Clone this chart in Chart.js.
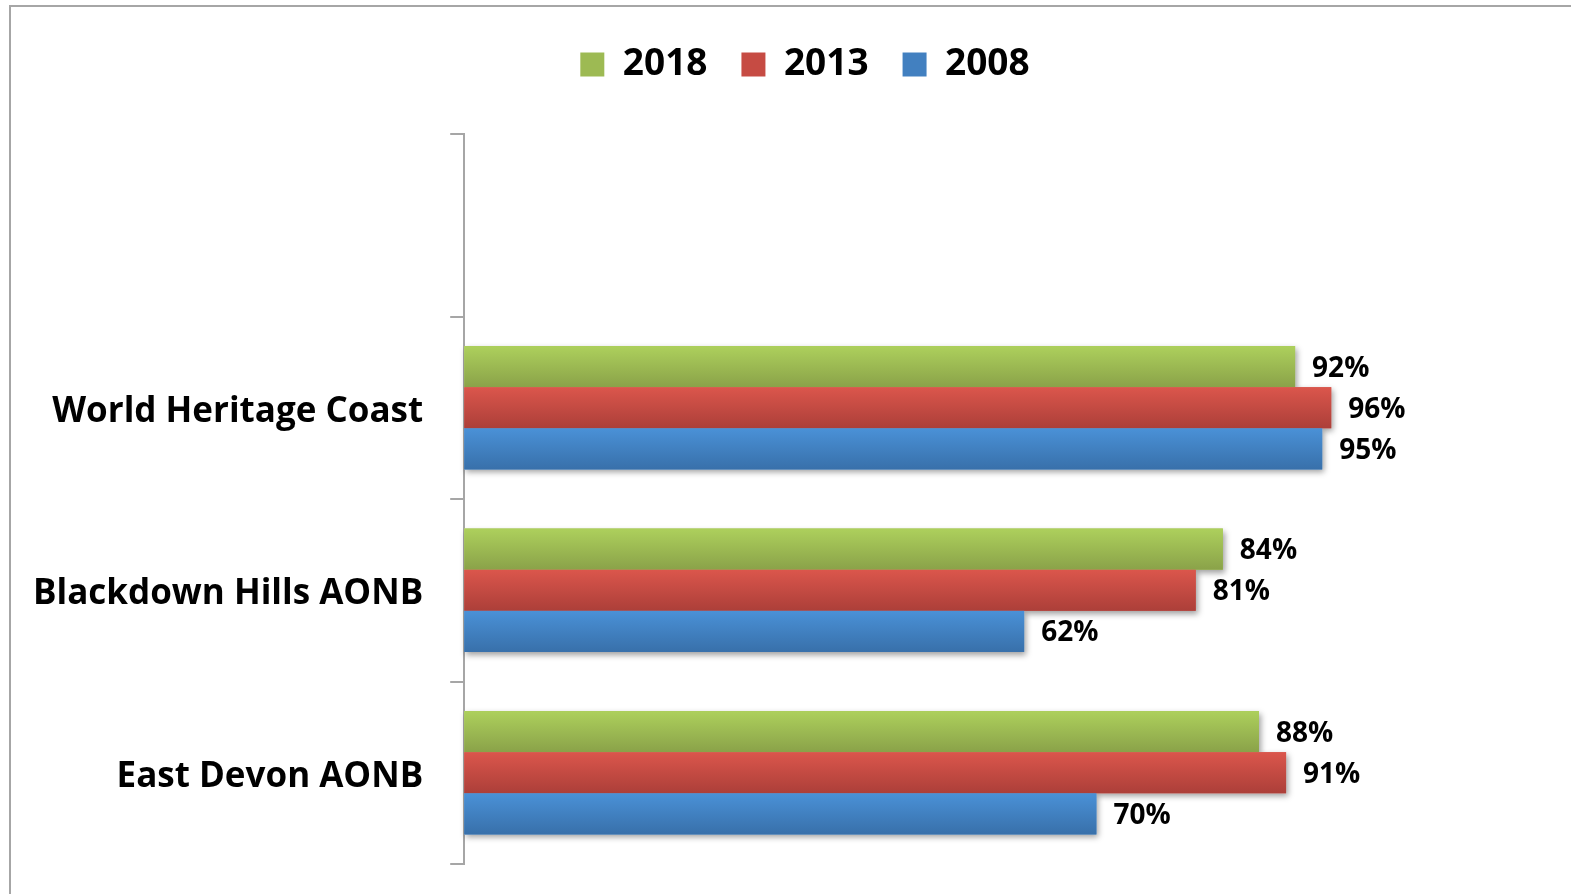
<!DOCTYPE html>
<html>
<head>
<meta charset="utf-8">
<script src="https://cdn.jsdelivr.net/npm/chart.js@4/dist/chart.umd.min.js"></script>
<style>
  html, body { margin: 0; padding: 0; background: #fff; overflow: hidden; }
  #wrap { position: absolute; left: 0; top: 0; width: 1571px; height: 894px; }
  #frame { position: absolute; left: 9px; top: 5px; width: 1562px; height: 889px;
           border-top: 2px solid #a6a6a6; border-left: 2px solid #a6a6a6; box-sizing: border-box; pointer-events: none; }
</style>
</head>
<body>
<div id="wrap"><canvas id="c" width="1571" height="894"></canvas></div>
<div id="frame"></div>
<script>
// ---- data ----
const categories = ['', 'World Heritage Coast', 'Blackdown Hills AONB', 'East Devon AONB'];
const seriesNames = ['2018', '2013', '2008'];
const values2018 = [null, 0.92, 0.84, 0.88];
const values2013 = [null, 0.96, 0.81, 0.91];
const values2008 = [null, 0.95, 0.62, 0.70];

// ---- styles ----
const FONT = "'Open Sans', 'Liberation Sans', sans-serif";
const colorsMid = ['#9dba53', '#c64b43', '#4280c0'];
const colorsTop = ['#add05c', '#db564c', '#4a91d7'];
const colorsBot = ['#8aa249', '#ac3f39', '#3870aa'];

const shadowPlugin = {
  id: 'barShadow',
  beforeDatasetsDraw(chart) {
    const ctx = chart.ctx;
    ctx.save();
    ctx.shadowColor = 'rgba(0,0,0,0.38)';
    ctx.shadowBlur = 6;
    ctx.shadowOffsetX = 2;
    ctx.shadowOffsetY = 3;
    ctx.fillStyle = '#ffffff';
    chart.data.datasets.forEach((ds, di) => {
      chart.getDatasetMeta(di).data.forEach((el, i) => {
        if (ds.data[i] == null) return;
        const p = el.getProps(['x', 'y', 'base', 'height'], true);
        ctx.fillRect(p.base, p.y - p.height / 2, p.x - p.base, p.height);
      });
    });
    ctx.restore();
  },
  afterDatasetsDraw(chart) {
    const ctx = chart.ctx;
    ctx.save();
    chart.data.datasets.forEach((ds, di) => {
      chart.getDatasetMeta(di).data.forEach((el, i) => {
        if (ds.data[i] == null) return;
        const p = el.getProps(['x', 'y', 'base', 'height'], true);
        const top = p.y - p.height / 2;
        const g = ctx.createLinearGradient(0, top, 0, top + p.height);
        g.addColorStop(0, colorsTop[di]);
        g.addColorStop(1, colorsBot[di]);
        ctx.fillStyle = g;
        ctx.fillRect(p.base, top, p.x - p.base, p.height);
        // value label
        ctx.fillStyle = '#000';
        ctx.font = "bold 28px " + FONT;
        ctx.textAlign = 'left';
        ctx.textBaseline = 'middle';
        ctx.fillText(Math.round(ds.data[i] * 100) + '%', p.x + 17, p.y + 2);
      });
    });
    ctx.restore();
  }
};

const LEGEND_EXTRA = 41;
const LEGEND_SHIFT = 28;
const legendLayoutPlugin = {
  id: 'legendLayout',
  beforeLayout(chart) {
    const lg = chart.legend;
    if (lg && !lg._patched) {
      const fit = lg.fit;
      lg.fit = function () { fit.call(this); this.height += LEGEND_EXTRA; };
      lg._patched = true;
    }
  },
  afterLayout(chart) {
    const lg = chart.legend;
    if (lg) { lg.left += LEGEND_SHIFT; lg.right += LEGEND_SHIFT; }
  }
};

new Chart(document.getElementById('c'), {
  type: 'bar',
  data: {
    labels: categories,
    datasets: [
      { label: seriesNames[0], data: values2018, backgroundColor: colorsMid[0] },
      { label: seriesNames[1], data: values2013, backgroundColor: colorsMid[1] },
      { label: seriesNames[2], data: values2008, backgroundColor: colorsMid[2] }
    ]
  },
  options: {
    indexAxis: 'y',
    responsive: false,
    animation: false,
    events: [],
    categoryPercentage: 0.676,
    barPercentage: 1.0,
    layout: { padding: { top: 12, bottom: 30, right: 23, left: 6 } },
    plugins: {
      legend: {
        display: true,
        position: 'top',
        labels: {
          boxWidth: 24, boxHeight: 24, padding: 34, color: '#000',
          font: { family: FONT, size: 37, weight: 'bold' }
        }
      },
      tooltip: { enabled: false }
    },
    scales: {
      x: { display: false, min: 0, max: 1.2 },
      y: {
        afterFit(scale) { scale.paddingTop = 0; scale.paddingBottom = 0; },
        grid: { display: true, drawOnChartArea: false, offset: true, tickLength: 14, color: '#a6a6a6', lineWidth: 2 },
        border: { display: true, color: '#a6a6a6', width: 2 },
        ticks: { color: '#000', padding: 27, labelOffset: 4, font: { family: FONT, size: 35, weight: 'bold' } }
      }
    }
  },
  plugins: [shadowPlugin, legendLayoutPlugin]
});
</script>
</body>
</html>
